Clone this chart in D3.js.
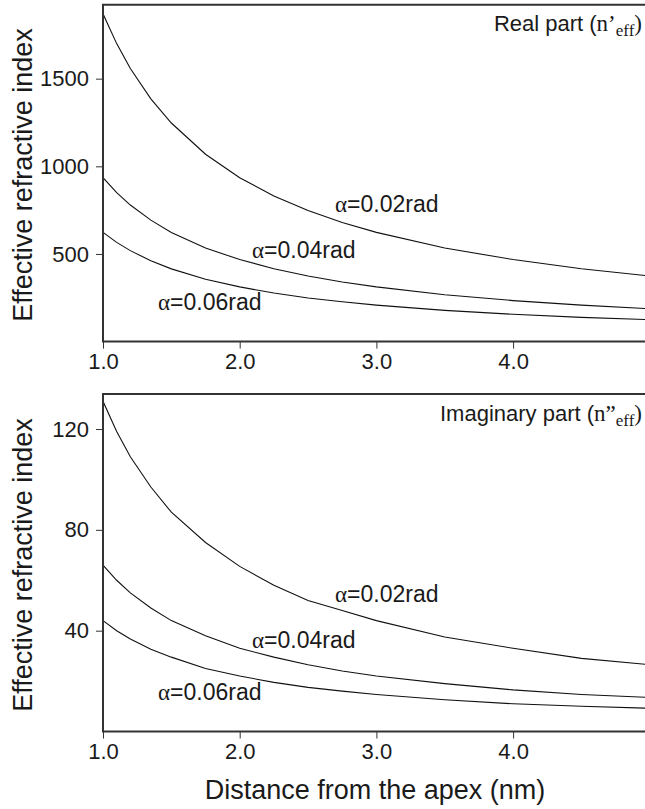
<!DOCTYPE html>
<html><head><meta charset="utf-8">
<script src="https://cdn.jsdelivr.net/npm/d3@7"></script>
<style>body{margin:0;background:#fff}svg{display:block}</style>
</head><body><svg id="c" width="645" height="809"></svg>
<script>
const xs = [1.0, 1.1, 1.2, 1.35, 1.5, 1.75, 2.0, 2.25, 2.5, 2.75, 3.0, 3.5, 4.0, 4.5, 5.0];
const realA02 = [1870, 1700, 1558, 1385, 1247, 1069, 935, 831, 748, 680, 623, 534, 468, 416, 374];
const realA04 = [935, 850, 779, 693, 623, 534, 468, 416, 374, 340, 312, 267, 234, 208, 187];
const realA06 = [623, 566, 519, 461, 415, 356, 312, 277, 249, 227, 208, 178, 156, 138, 125];
const imagA02 = [131, 119, 109, 97, 87, 75, 65.5, 58, 52, 48, 44, 37.5, 33, 29, 26.5];
const imagA04 = [66, 60, 55, 49, 44, 38, 33, 29.5, 26.5, 24, 22, 19, 16.5, 14.7, 13.5];
const imagA06 = [44, 40, 36.7, 32.6, 29.5, 25, 22, 19.5, 17.5, 16, 14.7, 12.6, 11, 10, 9.2];
const xTicks = [1.0, 2.0, 3.0, 4.0];
const realTicks = [500, 1000, 1500];
const imagTicks = [40, 80, 120];
const seriesLabels = ["α=0.02rad", "α=0.04rad", "α=0.06rad"];

const svg = d3.select("#c");
const left = 103, right = 645;
const x = d3.scaleLinear().domain([1, 4.965]).range([left, right]);
const sans = "Liberation Sans, Arial, sans-serif";
const serif = "Liberation Serif, Times New Roman, serif";

const panels = [
  {top: 4.7, bottom: 341.6, domain: [0, 1922], ticks: realTicks, series: [realA02, realA04, realA06],
   title: ["Real part (", "n’", "eff", ")"], titleY: 31,
   labelPos: [[335, 212], [252, 258], [158, 310]], ylabelY: 175},
  {top: 394, bottom: 731.5, domain: [0, 133.9], ticks: imagTicks, series: [imagA02, imagA04, imagA06],
   title: ["Imaginary part (", "n”", "eff", ")"], titleY: 421,
   labelPos: [[335, 602], [252, 648], [158, 700]], ylabelY: 565}
];

panels.forEach((p, pi) => {
  const y = d3.scaleLinear().domain(p.domain).range([p.bottom, p.top]);
  const g = svg.append("g");
  const cid = "clip" + pi;
  svg.append("clipPath").attr("id", cid).append("rect")
    .attr("x", left).attr("y", p.top).attr("width", right - left).attr("height", p.bottom - p.top);

  const line = d3.line().x((d, i) => x(xs[i])).y(d => y(d));
  p.series.forEach(s => {
    g.append("path").datum(s).attr("d", line).attr("clip-path", `url(#${cid})`)
      .attr("fill", "none").attr("stroke", "#111").attr("stroke-width", 1.1);
  });

  const ya = g.append("g").attr("transform", `translate(${left},0)`)
    .call(d3.axisLeft(y).tickValues(p.ticks).tickFormat(d3.format("d")).tickSize(7).tickPadding(7));
  ya.select(".domain").remove();
  ya.selectAll(".tick line").attr("stroke", "#333").attr("stroke-width", 1);
  ya.selectAll(".tick text").attr("font-family", sans).attr("font-size", 22).attr("fill", "#1a1a1a");

  const xa = g.append("g").attr("transform", `translate(0,${p.bottom})`)
    .call(d3.axisBottom(x).tickValues(xTicks).tickFormat(d3.format(".1f")).tickSize(7).tickPadding(5));
  xa.select(".domain").remove();
  xa.selectAll(".tick line").attr("stroke", "#333").attr("stroke-width", 1);
  xa.selectAll(".tick text").attr("font-family", sans).attr("font-size", 22).attr("fill", "#1a1a1a");

  g.append("path")
    .attr("d", `M${right},${p.top}H${left}V${p.bottom}H${right}`)
    .attr("fill", "none").attr("stroke", "#333").attr("stroke-width", 2);

  g.append("text").attr("transform", `translate(32,${p.ylabelY}) rotate(-90)`)
    .attr("text-anchor", "middle").attr("font-family", sans).attr("font-size", 27).attr("fill", "#1a1a1a")
    .text("Effective refractive index");

  const t = g.append("text").attr("x", 642).attr("y", p.titleY).attr("text-anchor", "end")
    .attr("font-size", 22).attr("fill", "#1a1a1a");
  t.append("tspan").attr("font-family", sans).text(p.title[0]);
  t.append("tspan").attr("font-family", serif).attr("font-size", 23).text(p.title[1]);
  t.append("tspan").attr("font-family", serif).attr("font-size", 17).attr("dy", 5).text(p.title[2]);
  t.append("tspan").attr("font-family", serif).attr("font-size", 23).attr("dy", -5).text(p.title[3]);

  seriesLabels.forEach((lab, i) => {
    const tt = g.append("text").attr("x", p.labelPos[i][0]).attr("y", p.labelPos[i][1])
      .attr("font-size", 23).attr("fill", "#1a1a1a");
    tt.append("tspan").attr("font-family", serif).text(lab.slice(0, 1));
    tt.append("tspan").attr("font-family", sans).text(lab.slice(1));
  });
});

svg.append("text").attr("x", 375).attr("y", 799).attr("text-anchor", "middle")
  .attr("font-family", sans).attr("font-size", 27).attr("fill", "#1a1a1a")
  .text("Distance from the apex (nm)");
</script></body></html>
